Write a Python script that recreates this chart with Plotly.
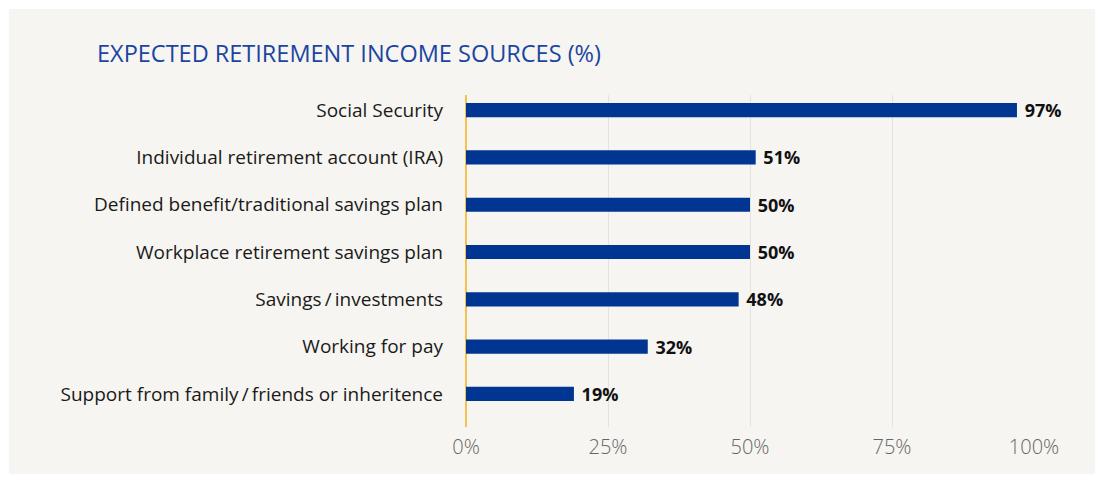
import plotly.graph_objects as go

# Survey results: share of respondents expecting each income source
sources = [
    "Social Security",
    "Individual retirement account (IRA)",
    "Defined benefit/traditional savings plan",
    "Workplace retirement savings plan",
    "Savings\u2009/\u2009investments",
    "Working for pay",
    "Support from family\u2009/\u2009friends or inheritence",
]
percent = [97, 51, 50, 50, 48, 32, 19]
tick_vals = [0, 25, 50, 75, 100]
tick_text = ["0%", "25%", "50%", "75%", "100%"]

BAR = "#003591"
PANEL = "#f6f5f1"
FONT = "Open Sans"

fig = go.Figure(
    go.Bar(
        x=percent,
        y=sources,
        orientation="h",
        width=0.3,
        marker=dict(color=BAR, line=dict(width=0)),
        text=[f" {v}%" for v in percent],
        textposition="outside",
        constraintext="none",
        textfont=dict(family=FONT, size=18, color="#111111", weight=700),
        cliponaxis=False,
        hoverinfo="skip",
    )
)

fig.update_layout(
    width=1103,
    height=482,
    margin=dict(l=466, r=69, t=95, b=55),
    paper_bgcolor="white",
    plot_bgcolor="rgba(0,0,0,0)",
    showlegend=False,
    font=dict(family=FONT),
    shapes=[
        dict(
            type="rect", xref="paper", yref="paper",
            x0=-0.8046, x1=1.1074, y0=-0.1416, y1=1.259,
            fillcolor=PANEL, line=dict(width=0), layer="below",
        )
    ],
    annotations=[
        dict(
            text="EXPECTED RETIREMENT INCOME SOURCES (%)",
            xref="paper", yref="paper",
            x=(95 - 466) / 568, y=(427 - 53) / 332,
            xanchor="left", yanchor="middle", showarrow=False,
            font=dict(family=FONT, size=23.5, color="#1b45a0"),
        )
    ],
)

fig.update_xaxes(
    range=[0, 100],
    tickvals=tick_vals,
    ticktext=tick_text,
    tickfont=dict(family=FONT, size=20, color="#666666", weight=300),
    showgrid=True,
    gridcolor="#e4e3df",
    gridwidth=1,
    zeroline=True,
    zerolinecolor="#f2c14e",
    zerolinewidth=1.5,
    showline=False,
    ticks="",
    ticklabelstandoff=6,
)

fig.update_yaxes(
    categoryorder="array",
    categoryarray=sources,
    range=[6.7, -0.32],
    tickfont=dict(family=FONT, size=19, color="#1a1a1a"),
    showgrid=False,
    zeroline=False,
    showline=False,
    ticks="",
    ticklabelstandoff=22,
)

fig.write_html("out.html")
